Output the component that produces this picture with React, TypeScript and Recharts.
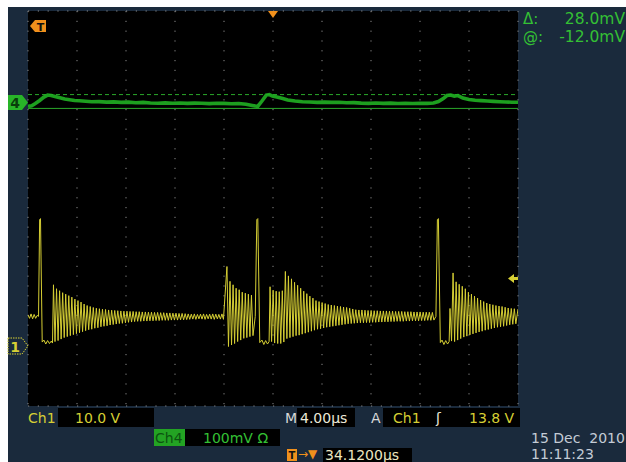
import React from 'react'
import { ComposedChart, Line, XAxis, YAxis, CartesianGrid, ReferenceLine } from 'recharts'

// time in µs, ch1 in V, ch4 in mV
const PERIOD = 0.25

const ch1Lead: [number, number][] = [
  [0, 6.3], [0.125, 5.6], [0.25, 6.5], [0.375, 5.5], [0.5, 6.4], [0.625, 5.6], [0.75, 6.2],
  [0.86, 6.0], [0.95, 25.6], [1.02, 25.8], [1.16, 0.8],
  [1.3, 1.2], [1.45, 0.4], [1.6, 1.1], [1.75, 0.5], [1.9, 1.0], [2.0, 0.6],
]
const ring1Top = [
  12.4, 11.6, 11.2, 10.8, 10.5, 10.2, 9.9, 9.5, 9.2, 8.9,
  8.5, 8.2, 8.0, 7.8, 7.65, 7.55, 7.45, 7.4, 7.3, 7.25,
  7.2, 7.15, 7.1, 7.05, 7.05, 7.0, 7.0, 6.95, 6.95, 6.9,
  6.9, 6.85, 6.85, 6.8, 6.8, 6.75, 6.75, 6.7, 6.7, 6.65,
  6.65, 6.6, 6.6, 6.55, 6.5, 6.45, 6.5, 6.4, 6.45, 6.5,
  6.4, 6.45, 6.5, 6.45, 6.4, 6.5,
]
const ring1Bottom = [
  0.9, 1.1, 1.4, 1.7, 1.9, 2.1, 2.3, 2.5, 2.7, 2.9,
  3.1, 3.3, 3.4, 3.6, 3.7, 3.9, 4.0, 4.1, 4.25, 4.35,
  4.45, 4.55, 4.6, 4.7, 4.8, 4.85, 4.95, 5.0, 5.0, 5.05,
  5.05, 5.1, 5.1, 5.15, 5.15, 5.2, 5.2, 5.2, 5.25, 5.25,
  5.25, 5.3, 5.3, 5.35, 5.4, 5.45, 5.4, 5.5, 5.45, 5.4,
  5.5, 5.45, 5.4, 5.5, 5.45, 5.4,
]
const burst2Top = [16.1, 13.1, 12.4, 11.7, 11.4, 10.9, 10.7, 10.5, 10.3]
const burst2Bottom = [-0.1, 0.2, 0.5, 0.9, 1.2, 1.55, 1.7, 1.9, 2.1]
const ch1Spike2: [number, number][] = [
  [18.55, 6.0], [18.68, 25.6], [18.76, 25.8], [18.92, 0.7],
  [19.1, 1.2], [19.25, 0.3], [19.4, 1.1], [19.55, 0.4], [19.68, 0.9],
]
const ring2Top = [
  12.0, 11.3, 11.1, 11.0, 11.2, 15.1, 14.2, 13.6, 12.9, 12.3,
  11.7, 11.1, 10.6, 10.1, 9.7, 9.2, 9.0, 8.8, 8.6, 8.4,
  8.3, 8.2, 8.1, 8.0, 7.9, 7.8, 7.65, 7.5, 7.35, 7.3,
  7.3, 7.25, 7.2, 7.2, 7.15, 7.15, 7.1, 7.1, 7.1, 7.05,
  7.05, 7.0, 7.0, 7.0, 6.95, 6.95, 6.95, 6.9, 6.9, 6.9,
  6.85, 6.85, 6.85, 6.8,
]
const ring2Bottom = [
  0.9, 0.6, 0.5, 0.5, 0.8, 1.5, 1.7, 1.9, 2.1, 2.2,
  2.4, 2.6, 2.8, 3.0, 3.2, 3.4, 3.5, 3.65, 3.8, 3.9,
  4.0, 4.1, 4.2, 4.3, 4.4, 4.5, 4.55, 4.6, 4.65, 4.7,
  4.7, 4.75, 4.75, 4.8, 4.8, 4.85, 4.85, 4.9, 4.9, 4.95,
  4.95, 5.0, 5.0, 5.0, 5.05, 5.05, 5.1, 5.1, 5.1, 5.15,
  5.15, 5.2, 5.2, 5.25,
]
const ch1Spike3: [number, number][] = [
  [33.3, 6.0], [33.42, 25.6], [33.5, 25.8], [33.66, 0.7],
  [33.8, 1.2], [33.95, 0.3], [34.1, 1.1], [34.25, 0.4], [34.38, 0.9],
]
const ring3Top = [7.6, 14.8, 13.0, 12.5, 12.1, 11.6, 10.9, 10.5, 10.1, 9.7, 9.3, 9.0, 8.7, 8.5, 8.35, 8.2, 8.1, 8.0, 7.85, 7.7, 7.6, 7.55]
const ring3Bottom = [1.0, 0.9, 1.2, 1.5, 1.8, 2.0, 2.25, 2.45, 2.65, 2.85, 3.0, 3.2, 3.35, 3.5, 3.65, 3.8, 3.9, 4.0, 4.15, 4.3, 4.4, 4.5]
const ch1Tail: [number, number][] = [[40, 7.5]]

const RING1_START = 2.08
const BURST2_START = 16.24
const RING2_START = 19.76
const RING3_START = 34.45

const ch4Trace: [number, number][] = [
  [0, -8], [0.3, -6.5], [0.6, -2], [0.95, 4], [1.3, 11], [1.6, 15], [1.9, 14], [2.2, 12], [2.6, 9.5],
  [3.0, 7], [3.4, 5.5], [3.8, 4], [4.2, 3.5], [4.7, 2.5], [5.2, 1.5], [5.8, 1.8], [6.4, 0.8], [7.0, 1.2],
  [7.6, 0.3], [8.2, 0.8], [8.8, -0.5], [9.4, 0.2], [10.0, -1.0], [10.6, -1.6], [11.2, -0.8], [11.8, -1.4],
  [12.4, -0.9], [13.0, -1.8], [13.6, -1.2], [14.2, -1.6], [14.8, -2.2], [15.4, -1.5], [16.0, -1.8],
  [16.6, -2.4], [17.2, -1.9], [17.8, -3.5], [18.3, -6], [18.75, -8], [19.1, 3], [19.45, 15], [19.7, 16],
  [19.95, 13], [20.3, 11], [20.8, 8], [21.2, 5], [21.8, 3], [22.4, 1.6], [23.0, 1.0], [23.6, 0.3],
  [24.2, 0.8], [24.8, 0.2], [25.4, 0.6], [26.0, -0.5], [26.6, -0.2], [27.2, -1.2], [27.8, -1.8],
  [28.4, -1.0], [29.0, -1.7], [29.6, -1.3], [30.2, -2.0], [30.8, -1.4], [31.4, -1.9], [32.0, -1.5],
  [32.6, -1.8], [33.1, -1.0], [33.5, 2], [33.9, 8], [34.2, 14], [34.5, 15], [34.8, 13], [35.1, 14],
  [35.5, 9], [36.0, 6], [36.5, 4.5], [37.0, 3.8], [37.5, 3], [38.0, 2.2], [38.5, 1.5], [39.0, 1.0],
  [39.5, 0.6], [40, 0.4],
]

const CURSOR_A = -12
const CURSOR_B = 16
const timeTicks = [0, 4, 8, 12, 16, 20, 24, 28, 32, 36, 40]
const divTicks = [-4, -3, -2, -1, 0, 1, 2, 3, 4]

const pts = (pairs: [number, number][]) => pairs.map(([t, v]) => ({ t, v }))
const ring = (start: number, tops: number[], bottoms: number[]) =>
  tops.flatMap((top, i) => [
    { t: start + i * PERIOD, v: top },
    { t: start + (i + 0.5) * PERIOD, v: bottoms[i] },
  ])

const ch1Data = [
  ...pts(ch1Lead),
  ...ring(RING1_START, ring1Top, ring1Bottom),
  ...ring(BURST2_START, burst2Top, burst2Bottom),
  ...pts(ch1Spike2),
  ...ring(RING2_START, ring2Top, ring2Bottom),
  ...pts(ch1Spike3),
  ...ring(RING3_START, ring3Top, ring3Bottom),
  ...pts(ch1Tail),
]
const ch4Data = pts(ch4Trace)

const NAVY = '#1a2a3c'
const YELLOW = '#d6cf34'
const GREEN = '#34c034'
const ORANGE = '#f0901c'
const FONT = '"DejaVu Sans", sans-serif'

function Txt({ x, y, right, color, children, size = 14 }: any) {
  return (
    <div style={{ position: 'absolute', left: x, right, top: y, color, fontSize: size, fontFamily: FONT, whiteSpace: 'pre', lineHeight: 1 }}>
      {children}
    </div>
  )
}

function Box({ x, y, w, h, bg = '#000' }: any) {
  return <div style={{ position: 'absolute', left: x, top: y, width: w, height: h, background: bg }} />
}

export default function App() {
  return (
    <div style={{ position: 'absolute', left: 0, top: 0, width: 626, height: 462, background: '#fff', overflow: 'hidden' }}>
      <div style={{ position: 'absolute', left: 8, top: 7, right: 0, bottom: 0, background: NAVY }} />
      <div style={{ position: 'absolute', left: 0, top: 0 }}>
        <ComposedChart width={626} height={462} margin={{ top: 11, right: 108, bottom: 56, left: 28 }}>
          <XAxis dataKey="t" type="number" domain={[0, 40]} ticks={timeTicks} hide allowDataOverflow />
          <YAxis yAxisId="div" type="number" domain={[-4, 4]} ticks={divTicks} hide />
          <YAxis yAxisId="ch1" type="number" domain={[-12.15, 67.85]} hide allowDataOverflow />
          <YAxis yAxisId="ch4" type="number" domain={[-614.7, 185.3]} hide allowDataOverflow />
          <CartesianGrid yAxisId="div" fill="#000" fillOpacity={1} stroke="#8a8a8a" strokeDasharray="1.2 8.6" />
          <ReferenceLine x={20} yAxisId="div" stroke="#8a8a8a" strokeDasharray="1 1.45" />
          <ReferenceLine y={0} yAxisId="div" stroke="#8a8a8a" strokeDasharray="1 1.45" />
          <ReferenceLine x={20} yAxisId="div" stroke="#8a8a8a" strokeWidth={6} strokeDasharray="1 8.8" />
          <ReferenceLine y={0} yAxisId="div" stroke="#8a8a8a" strokeWidth={6} strokeDasharray="1 8.8" />
          <ReferenceLine x={0} yAxisId="div" stroke="#7c8aa0" />
          <ReferenceLine x={40} yAxisId="div" stroke="#7c8aa0" />
          <ReferenceLine y={4} yAxisId="div" stroke="#7c8aa0" />
          <ReferenceLine y={-4} yAxisId="div" stroke="#7c8aa0" />
          <ReferenceLine x={0} yAxisId="div" stroke="#8a8a8a" strokeWidth={6} strokeDasharray="1 8.8" />
          <ReferenceLine x={40} yAxisId="div" stroke="#8a8a8a" strokeWidth={6} strokeDasharray="1 8.8" />
          <ReferenceLine y={4} yAxisId="div" stroke="#8a8a8a" strokeWidth={6} strokeDasharray="1 8.8" />
          <ReferenceLine y={-4} yAxisId="div" stroke="#8a8a8a" strokeWidth={6} strokeDasharray="1 8.8" />
          <ReferenceLine y={CURSOR_B} yAxisId="ch4" stroke="#2aa82a" strokeDasharray="4 3" />
          <ReferenceLine y={CURSOR_A} yAxisId="ch4" stroke="#2aa82a" />
          <Line data={ch4Data} dataKey="v" yAxisId="ch4" type="linear" stroke="#20b022" strokeWidth={3.6} strokeOpacity={0.9} dot={false} isAnimationActive={false} />
          <Line data={ch1Data} dataKey="v" yAxisId="ch1" type="linear" stroke={YELLOW} strokeWidth={1} dot={false} isAnimationActive={false} />
        </ComposedChart>
      </div>
      <svg width={626} height={462} style={{ position: 'absolute', left: 0, top: 0, pointerEvents: 'none' }}>
        <polygon points="30,26 35,20 46,20 46,32 35,32" fill={ORANGE} />
        <text x={40.5} y={30.5} fontSize={11} fontWeight="bold" fontFamily={FONT} textAnchor="middle" fill="#111">T</text>
        <polygon points="268,11 278,11 273,18" fill={ORANGE} />
        <polygon points="8,95 22,95 28,102.5 22,110 8,110" fill="#28b428" />
        <text x={15} y={108} fontSize={14} fontWeight="bold" fontFamily={FONT} textAnchor="middle" fill="#083d0b">4</text>
        <polygon points="8,338 22,338 28,346 22,354 8,354" fill={NAVY} stroke={YELLOW} strokeDasharray="1.5 1" />
        <text x={15} y={351.5} fontSize={14} fontWeight="bold" fontFamily={FONT} textAnchor="middle" fill={YELLOW}>1</text>
        <polygon points="508,278.5 514,274 514,277 518,277 518,280 514,280 514,283" fill={YELLOW} />
        <rect x={287} y={449} width={10} height={12} fill={ORANGE} />
        <text x={292} y={459} fontSize={10} fontWeight="bold" fontFamily={FONT} textAnchor="middle" fill="#111">T</text>
      </svg>
      <Txt x={523} y={12} color={GREEN} size={15}>Δ:</Txt>
      <Txt right={1} y={12} color={GREEN} size={15.5}>28.0mV</Txt>
      <Txt x={523} y={30} color={GREEN} size={15}>@:</Txt>
      <Txt right={1} y={30} color={GREEN} size={15.5}>-12.0mV</Txt>

      <Txt x={28} y={411} color={YELLOW}>Ch1</Txt>
      <Box x={58} y={408} w={96} h={19} />
      <Txt x={75} y={411} color={YELLOW}>10.0 V</Txt>
      <Txt x={285} y={411} color="#d8d8d8">M</Txt>
      <Box x={297} y={408} w={58} h={19} />
      <Txt x={300} y={411} color="#ece8d8">4.00µs</Txt>
      <Txt x={371} y={411} color="#d8d8d8">A</Txt>
      <Box x={383} y={408} w={137} h={19} />
      <Txt x={393} y={411} color={YELLOW}>Ch1</Txt>
      <Txt x={436} y={411} color="#ece8d8">ʃ</Txt>
      <Txt x={469} y={411} color={YELLOW}>13.8 V</Txt>

      <Box x={154} y={429} w={31} h={17} bg="#23a323" />
      <Txt x={155} y={431} color="#0b5410">Ch4</Txt>
      <Box x={185} y={429} w={95} h={17} />
      <Txt x={203} y={431} color={GREEN}>100mV Ω</Txt>

      <Txt x={298} y={448} color={ORANGE} size={12}>→▼</Txt>
      <Box x={323} y={448} w={89} h={14} />
      <Txt x={325} y={448} color="#ece6c0">34.1200µs</Txt>

      <Txt x={531} y={431} color="#c4ccd6">15 Dec  2010</Txt>
      <Txt x={531} y={447} color="#c4ccd6">11:11:23</Txt>
    </div>
  )
}
